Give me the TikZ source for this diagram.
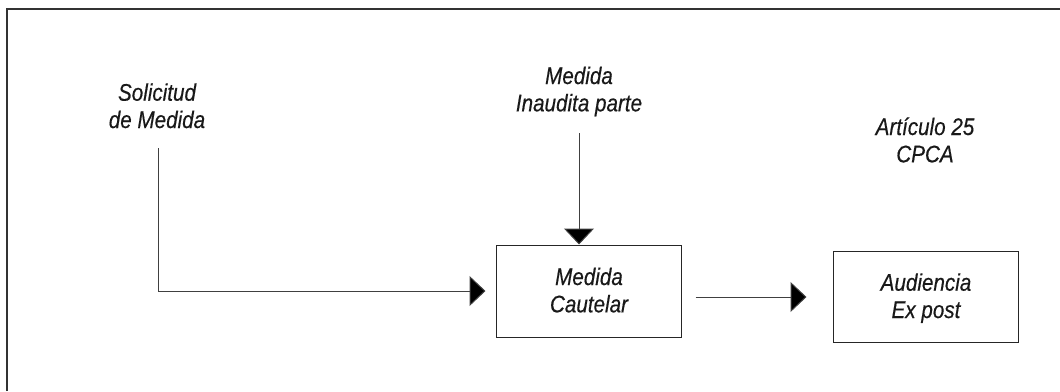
\documentclass[tikz,border=0pt]{standalone}
\usepackage{fontspec}
\setmainfont{Liberation Sans}[FakeStretch=0.86,FakeBold=0.4]
\usetikzlibrary{arrows.meta}
\begin{document}
\begin{tikzpicture}[x=1pt,y=-1pt,
  txtfont/.style={font=\fontsize{24}{27.3}\selectfont\itshape},
  lbl/.style={txtfont,align=center,inner sep=0pt,text=black!90},
  boxn/.style={draw=black!85,line width=1pt,minimum width=185pt,inner sep=0pt},
  conn/.style={draw=black!75,line width=1pt,-{Triangle[length=16pt,width=30pt,fill=black]}},
  frame/.style={draw=black!80,line width=1.2pt}]
\useasboundingbox (0,0) rectangle (1060,391);
\draw[frame] (7,391) -- (7,9) -- (1060,9);
\node[lbl] (sol) at (157,108.9) {\strut Solicitud\\\strut de Medida};
\node[lbl] (ina) at (579,92.2) {\strut Medida\\\strut Inaudita parte};
\node[lbl] (art) at (925,143.2) {\strut Artículo 25\\\strut CPCA};
\node[boxn,minimum height=92pt] (mc) at (588.5,291) {};
\node[boxn,minimum height=91pt] (aud) at (925.5,296.5) {};
\node[lbl] (mct) at (589,293.2) {\strut Medida\\\strut Cautelar};
\node[lbl] (audt) at (926,298.9) {\strut Audiencia\\\strut Ex post};
\coordinate (s1) at (158,148);
\coordinate (i1) at (579,133);
\draw[conn,shorten >=10pt] (s1) |- (mc.west);
\draw[conn] (i1) -- (i1 |- mc.north);
\draw[conn,shorten <=14pt,shorten >=26pt] (mc.east |- 0,297) -- (aud.west |- 0,297);
\end{tikzpicture}
\end{document}
